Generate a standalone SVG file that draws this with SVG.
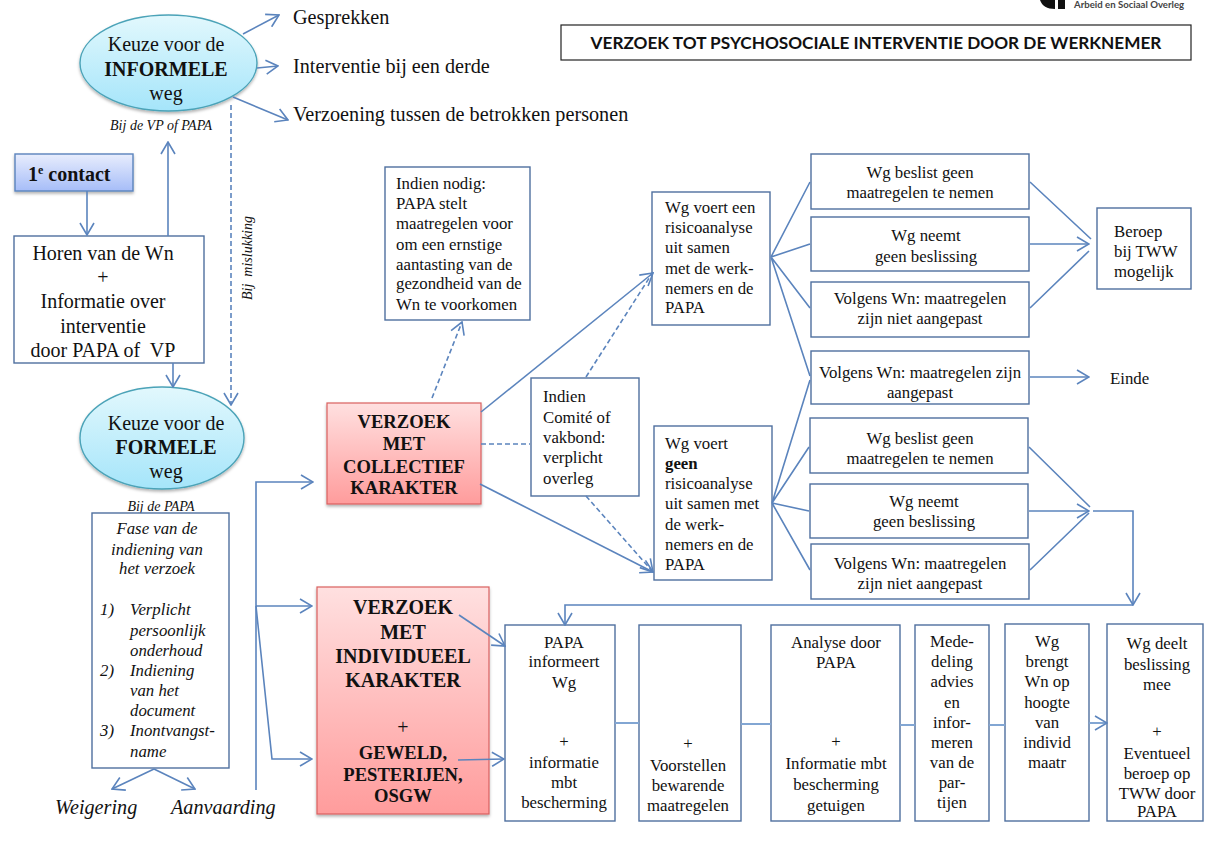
<svg xmlns="http://www.w3.org/2000/svg" width="1210" height="861" viewBox="0 0 1210 861">
<style>
text{font-family:"Liberation Serif",serif;fill:#111;text-anchor:middle;translate:0 1px}
.s{font-size:16.8px}.m{font-size:20px}.l{font-size:20.2px}.k{font-size:18.6px}.b{font-weight:bold}.i{font-style:italic}.t{font-size:14px}
.a{text-anchor:start}
.box{fill:#fff;stroke:#4f6f9f;stroke-width:1.4}
.c{fill:none;stroke:#5b84bd;stroke-width:1.6}
.d{stroke-dasharray:5 3}
.h{stroke:#82a6d3;stroke-width:2}
.red{fill:url(#red);stroke:#d9605f;stroke-width:1.2;filter:url(#sh)}
.ell{fill:url(#blue);stroke:#4ba3b8;stroke-width:1.4;filter:url(#sh)}
</style>
<defs>
<linearGradient id="blue" x1="0" y1="0" x2="0" y2="1"><stop offset="0" stop-color="#e2f8fd"/><stop offset="1" stop-color="#a5e5fa"/></linearGradient>
<linearGradient id="red" x1="0" y1="0" x2="0" y2="1"><stop offset="0" stop-color="#ffe0e0"/><stop offset="1" stop-color="#ff9c9c"/></linearGradient>
<linearGradient id="con" x1="0" y1="0" x2="0" y2="1"><stop offset="0" stop-color="#e8edfd"/><stop offset="1" stop-color="#a6bdf8"/></linearGradient>
<filter id="sh" x="-10%" y="-10%" width="120%" height="125%"><feDropShadow dx="0" dy="2" stdDeviation="1.5" flood-color="#000" flood-opacity=".3"/></filter>
<marker id="ar" markerUnits="userSpaceOnUse" viewBox="0 0 14 16" refX="13" refY="8" markerWidth="14" markerHeight="16" orient="auto"><path d="M1 1L13 8L1 15" fill="none" stroke="#5b84bd" stroke-width="1.6"/></marker>
</defs>

<g id="logo"><path d="M1040 0H1055V9C1047 9 1042 6 1040 0ZM1058 0H1065V9H1058Z" fill="#111"/><text class="b a" x="1074" y="7" style="font-family:Lato,sans-serif;font-size:9.6px;fill:#444">Arbeid en Sociaal Overleg</text></g>

<g id="title"><rect x="561" y="25" width="630" height="35" fill="#fff" stroke="#222" stroke-width="1.2"/><text x="876" y="48" class="b" style="font-family:Lato,sans-serif;font-size:17.2px">VERZOEK TOT PSYCHOSOCIALE INTERVENTIE DOOR DE WERKNEMER</text></g>

<g id="opt-gesprekken"><text class="l a" x="293" y="23">Gesprekken</text></g>
<g id="opt-interventie"><text class="l a" x="293" y="72">Interventie bij een derde</text></g>
<g id="opt-verzoening"><text class="l a" x="293" y="120">Verzoening tussen de betrokken personen</text></g>

<g id="informele"><ellipse class="ell" cx="168.500" cy="63" rx="88.500" ry="48"/><text class="m" x="166" y="50">Keuze voor de</text><text class="m b" x="166" y="75">INFORMELE</text><text class="m" x="166" y="99">weg</text></g>
<text class="i t" x="161" y="129">Bij de VP of PAPA</text>

<g id="contact"><rect x="15" y="154" width="118" height="37" fill="url(#con)" stroke="#5b84bd" stroke-width="1.4" filter="url(#sh)"/><text class="m b a" x="28" y="180">1<tspan dy="-7" font-size="12">e</tspan><tspan dy="7"> contact</tspan></text></g>

<g id="horen"><rect class="box" x="14" y="236" width="190" height="127"/><text class="m" x="103" y="259">Horen van de Wn</text><text class="m" x="103" y="283">+</text><text class="m" x="103" y="307">Informatie over</text><text class="m" x="103" y="332">interventie</text><text class="m" x="103" y="356" xml:space="preserve">door PAPA of  VP</text></g>

<text class="i t" transform="translate(252 257) rotate(-90)" xml:space="preserve">Bij  mislukking</text>

<g id="formele"><ellipse class="ell" cx="162" cy="438" rx="82" ry="51"/><text class="m" x="166" y="429">Keuze voor de</text><text class="m b" x="166" y="453">FORMELE</text><text class="m" x="166" y="477">weg</text></g>
<text class="i t" x="161" y="510">Bij de PAPA</text>

<g id="fase"><rect class="box" x="92" y="513" width="137" height="255"/>
<g class="s i"><text x="157" y="533">Fase van de</text><text x="157" y="554">indiening van</text><text x="157" y="573">het verzoek</text>
<text class="a" x="100" y="614">1)</text><text class="a" x="130" y="614">Verplicht</text><text class="a" x="130" y="635">persoonlijk</text><text class="a" x="130" y="655">onderhoud</text>
<text class="a" x="100" y="675">2)</text><text class="a" x="130" y="675">Indiening</text><text class="a" x="130" y="695">van het</text><text class="a" x="130" y="715">document</text>
<text class="a" x="100" y="735">3)</text><text class="a" x="130" y="735">Inontvangst-</text><text class="a" x="130" y="756">name</text></g></g>

<g id="weigering"><text class="l i a" x="55" y="813">Weigering</text></g>
<g id="aanvaarding"><text class="l i a" x="171" y="813">Aanvaarding</text></g>

<g id="nodig"><rect class="box" x="385" y="167" width="145" height="153"/><g class="s"><text class="a" x="396" y="188">Indien nodig:</text><text class="a" x="396" y="208">PAPA stelt</text><text class="a" x="396" y="228">maatregelen voor</text><text class="a" x="396" y="249">om een ernstige</text><text class="a" x="396" y="269">aantasting van de</text><text class="a" x="396" y="288">gezondheid van de</text><text class="a" x="396" y="309">Wn te voorkomen</text></g></g>

<g id="collectief"><rect class="red" x="327" y="403" width="154" height="101"/><g class="k b"><text x="404" y="427">VERZOEK</text><text x="404" y="449">MET</text><text x="404" y="472">COLLECTIEF</text><text x="404" y="493">KARAKTER</text></g></g>

<g id="comite"><rect class="box" x="531" y="378" width="108" height="118"/><g class="s"><text class="a" x="543" y="401">Indien</text><text class="a" x="543" y="422">Comité of</text><text class="a" x="543" y="442">vakbond:</text><text class="a" x="543" y="462">verplicht</text><text class="a" x="543" y="483">overleg</text></g></g>

<g id="risico1"><rect class="box" x="652" y="192" width="118" height="133"/><g class="s"><text class="a" x="665" y="212">Wg voert een</text><text class="a" x="665" y="232">risicoanalyse</text><text class="a" x="665" y="252">uit samen</text><text class="a" x="665" y="273">met de werk-</text><text class="a" x="665" y="293">nemers en de</text><text class="a" x="665" y="312">PAPA</text></g></g>

<g id="risico2"><rect class="box" x="654" y="426" width="118" height="154"/><g class="s"><text class="a" x="665" y="448">Wg voert</text><text class="a b" x="665" y="468">geen</text><text class="a" x="665" y="488">risicoanalyse</text><text class="a" x="665" y="508">uit samen met</text><text class="a" x="665" y="529">de werk-</text><text class="a" x="665" y="549">nemers en de</text><text class="a" x="665" y="569">PAPA</text></g></g>

<g id="r1" class="s"><rect class="box" x="811" y="154" width="218" height="55"/><text x="920" y="177">Wg beslist geen</text><text x="920" y="197">maatregelen te nemen</text></g>
<g id="r2" class="s"><rect class="box" x="811" y="217" width="218" height="54"/><text x="926" y="240">Wg neemt</text><text x="926" y="261">geen beslissing</text></g>
<g id="r3" class="s"><rect class="box" x="811" y="282" width="218" height="55"/><text x="920" y="303">Volgens Wn: maatregelen</text><text x="920" y="323">zijn niet aangepast</text></g>
<g id="r4" class="s"><rect class="box" x="811" y="351" width="218" height="53"/><text x="920" y="377">Volgens Wn: maatregelen zijn</text><text x="920" y="397">aangepast</text></g>
<g id="r5" class="s"><rect class="box" x="810" y="418" width="218" height="55"/><text x="920" y="443">Wg beslist geen</text><text x="920" y="463">maatregelen te nemen</text></g>
<g id="r6" class="s"><rect class="box" x="810" y="484" width="218" height="54"/><text x="924" y="506">Wg neemt</text><text x="924" y="526">geen beslissing</text></g>
<g id="r7" class="s"><rect class="box" x="811" y="544" width="218" height="55"/><text x="920" y="568">Volgens Wn: maatregelen</text><text x="920" y="588">zijn niet aangepast</text></g>

<g id="beroep" class="s"><rect class="box" x="1097" y="208" width="94" height="81"/><text class="a" x="1114" y="236">Beroep</text><text class="a" x="1114" y="256">bij TWW</text><text class="a" x="1114" y="276">mogelijk</text></g>
<g id="einde"><text class="s a" x="1110" y="383">Einde</text></g>

<g id="individueel"><rect class="red" x="317" y="587" width="172" height="227"/><g class="b"><g class="m"><text x="403" y="613">VERZOEK</text><text x="403" y="638">MET</text><text x="403" y="662">INDIVIDUEEL</text><text x="403" y="686">KARAKTER</text></g><text class="m" x="403" y="733" style="font-weight:normal">+</text><g class="k"><text x="403" y="758">GEWELD,</text><text x="403" y="780">PESTERIJEN,</text><text x="403" y="801">OSGW</text></g></g></g>

<g id="p1" class="s"><rect class="box" x="505" y="625" width="110" height="196"/><text x="564" y="647">PAPA</text><text x="564" y="666">informeert</text><text x="564" y="687">Wg</text><text x="564" y="746">+</text><text x="564" y="767">informatie</text><text x="564" y="787">mbt</text><text x="564" y="807">bescherming</text></g>
<g id="p2" class="s"><rect class="box" x="639" y="625" width="102" height="196"/><text x="688" y="748">+</text><text x="688" y="770">Voorstellen</text><text x="688" y="790">bewarende</text><text x="688" y="810">maatregelen</text></g>
<g id="p3" class="s"><rect class="box" x="771" y="625" width="129" height="196"/><text x="836" y="647">Analyse door</text><text x="836" y="667">PAPA</text><text x="836" y="746">+</text><text x="836" y="768">Informatie mbt</text><text x="836" y="789">bescherming</text><text x="836" y="810">getuigen</text></g>
<g id="p4" class="s"><rect class="box" x="915" y="625" width="74" height="196"/><text x="952" y="646">Mede-</text><text x="952" y="666">deling</text><text x="952" y="686">advies</text><text x="952" y="707">en</text><text x="952" y="727">infor-</text><text x="952" y="747">meren</text><text x="952" y="767">van de</text><text x="952" y="787">par-</text><text x="952" y="807">tijen</text></g>
<g id="p5" class="s"><rect class="box" x="1005" y="624" width="84" height="197"/><text x="1047" y="646">Wg</text><text x="1047" y="666">brengt</text><text x="1047" y="686">Wn op</text><text x="1047" y="707">hoogte</text><text x="1047" y="727">van</text><text x="1047" y="747">individ</text><text x="1047" y="767">maatr</text></g>
<g id="p6" class="s"><rect class="box" x="1107" y="624" width="96" height="197"/><text x="1157" y="648">Wg deelt</text><text x="1157" y="669">beslissing</text><text x="1157" y="689">mee</text><text x="1157" y="736">+</text><text x="1157" y="758">Eventueel</text><text x="1157" y="778">beroep op</text><text x="1157" y="798">TWW door</text><text x="1157" y="816">PAPA</text></g>

<g id="connectors">
<path class="c" d="M243 34L279 15" marker-end="url(#ar)"/>
<path class="c" d="M257 68L278 66" marker-end="url(#ar)"/>
<path class="c" d="M233 97L288 120" marker-end="url(#ar)"/>
<path class="c" d="M168 236V142" marker-end="url(#ar)"/>
<path class="c" d="M87 191V235" marker-end="url(#ar)"/>
<path class="c" d="M173 363V387" marker-end="url(#ar)"/>
<path class="c d" d="M231 105V405" marker-end="url(#ar)"/>
<path class="c" d="M154 769L112 789" marker-end="url(#ar)"/>
<path class="c" d="M154 769L195 789" marker-end="url(#ar)"/>
<path class="c" d="M256 790V482H313" marker-end="url(#ar)"/>
<path class="c" d="M256 606H312" marker-end="url(#ar)"/>
<path class="c" d="M256 606L272 759H312" marker-end="url(#ar)"/>
<path class="c d" d="M432 398L462 322" marker-end="url(#ar)"/>
<path class="c" d="M481 412L653 273" marker-end="url(#ar)"/>
<path class="c" d="M480 484L653 572" marker-end="url(#ar)"/>
<path class="c d" d="M481 444H530"/>
<path class="c d" d="M586 377L653 272"/>
<path class="c d" d="M586 496L653 572" marker-end="url(#ar)"/>
<path class="c" d="M771 257L810 182M771 257L810 244M771 257L810 308M771 257L810 376"/>
<path class="c" d="M772 503L810 380M772 503L809 447M772 503L809 511M772 503L810 570"/>
<path class="c" d="M1030 182L1091 239M1030 308L1089 251"/>
<path class="c" d="M1030 244H1089" marker-end="url(#ar)"/>
<path class="c" d="M1030 377H1089" marker-end="url(#ar)"/>
<path class="c" d="M1029 447L1090 507M1030 570L1089 513"/>
<path class="c" d="M1029 511H1089" marker-end="url(#ar)"/>
<path class="c" d="M1093 511H1133V605" marker-end="url(#ar)"/>
<path class="c" d="M1133 605H565V625" marker-end="url(#ar)"/>
<path class="c" d="M459 615L505 646" marker-end="url(#ar)"/>
<path class="c" d="M458 760L504 759" marker-end="url(#ar)"/>
<path class="c h" d="M615 723H639M741 724H771M900 725H915M989 725H1005"/>
<path class="c h" d="M1089 723H1107" marker-end="url(#ar)"/>
</g>
</svg>
